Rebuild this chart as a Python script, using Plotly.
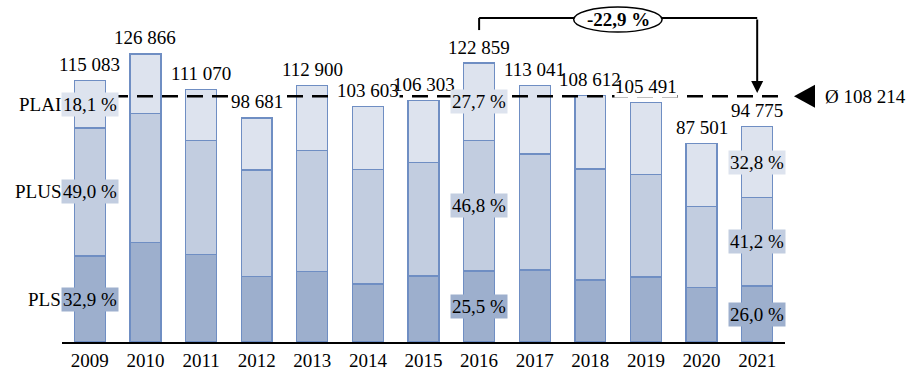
import plotly.graph_objects as go

years = ["2009", "2010", "2011", "2012", "2013", "2014", "2015",
         "2016", "2017", "2018", "2019", "2020", "2021"]
totals = [115083, 126866, 111070, 98681, 112900, 103603, 106303,
          122859, 113041, 108612, 105491, 87501, 94775]
# shares in percent of each year's total
share_pls = [32.9, 34.6, 34.7, 29.2, 27.6, 24.6, 27.3, 25.5, 28.0, 25.1, 27.1, 27.6, 26.0]
share_plus = [49.0, 44.6, 45.1, 47.6, 47.1, 48.7, 47.1, 46.8, 45.2, 45.1, 42.9, 40.7, 41.2]
share_plai = [18.1, 20.8, 20.2, 23.2, 25.3, 26.7, 25.6, 27.7, 26.8, 29.8, 30.0, 31.7, 32.8]
series_names = ["PLS", "PLUS", "PLAI"]
labelled_years = ["2009", "2016", "2021"]

FONT = "Liberation Serif"
FS = 19
col_pls, col_plus, col_plai = "#9dafcd", "#c2cde0", "#dde3ee"
edge = "#6f8ec3"
Y_MAX = 150600
PLOT_H = 342  # pixel height of plotting area
LABEL_SHIFT = 16

def fmt_int(v):
    return f"{int(round(v)):,}".replace(",", " ")

def fmt_pct(v):
    return f"{v:.1f}".replace(".", ",") + " %"

vals_pls = [t * s / 100 for t, s in zip(totals, share_pls)]
vals_plus = [t * s / 100 for t, s in zip(totals, share_plus)]
vals_plai = [t * s / 100 for t, s in zip(totals, share_plai)]
avg = sum(totals) / len(totals)
i16, i21 = years.index("2016"), years.index("2021")
change = (totals[i21] - totals[i16]) / totals[i16] * 100
px_per_unit = PLOT_H / Y_MAX

fig = go.Figure()
for name, vals, col in zip(series_names, [vals_pls, vals_plus, vals_plai], [col_pls, col_plus, col_plai]):
    fig.add_trace(go.Bar(x=years, y=vals, name=name, marker=dict(color=col, line=dict(color=edge, width=1.3)),
                         hoverinfo="skip"))

ann_bg, ann_plain = [], []
# totals above bars; white background only where the label sits on the average line
for i, t in enumerate(totals):
    centre_px = t * px_per_unit + LABEL_SHIFT
    crosses = abs(centre_px - avg * px_per_unit) < 11
    a = dict(x=i, y=t, text=fmt_int(t), showarrow=False, yanchor="middle", yshift=LABEL_SHIFT,
             font=dict(family=FONT, size=FS, color="black"), borderpad=0)
    if crosses:
        a["bgcolor"] = "white"
        ann_bg.append(a)
    else:
        ann_plain.append(a)
ann = ann_bg + ann_plain
# percentage labels
for y in labelled_years:
    i = years.index(y)
    base = 0
    for vals, shares, col in [(vals_pls, share_pls, col_pls), (vals_plus, share_plus, col_plus),
                              (vals_plai, share_plai, col_plai)]:
        ann.append(dict(x=i, y=base + vals[i] / 2, text=fmt_pct(shares[i]), showarrow=False,
                        bgcolor=col, borderpad=1, font=dict(family=FONT, size=FS, color="black")))
        base += vals[i]
# series names at left
base = 0
for name, vals in zip(series_names, [vals_pls, vals_plus, vals_plai]):
    ann.append(dict(xref="paper", x=0, y=base + vals[0] / 2, text=name, showarrow=False, xanchor="right",
                    xshift=1, font=dict(family=FONT, size=FS, color="black")))
    base += vals[0]

BR_Y = 142700
# arrow down to average line at 2021
ann.append(dict(x=i21, y=avg + 1400, ax=i21, ay=BR_Y, axref="x", ayref="y", text="",
                showarrow=True, arrowhead=2, arrowsize=1.2, arrowwidth=2, arrowcolor="black"))
# average label
ann.append(dict(xref="paper", x=1.052, y=avg, text="Ø " + fmt_int(avg), showarrow=False, xanchor="left",
                font=dict(family=FONT, size=FS, color="black")))
# change label
ann.append(dict(x=9.5, y=142000, text="<b>" + fmt_pct(change) + "</b>", showarrow=False,
                font=dict(family=FONT, size=FS, color="black")))

shapes = [
    dict(type="line", xref="paper", x0=0, x1=1, y0=avg, y1=avg, layer="above",
         line=dict(color="black", width=2.6, dash="16px,9px")),
    dict(type="path", xref="paper", yref="y", layer="above",
         path=f"M 1.0415,{avg + 5100} L 1.0124,{avg} L 1.0415,{avg - 5100} Z",
         fillcolor="black", line=dict(color="black", width=0)),
    dict(type="line", x0=i16, x1=i16, y0=totals[i16] + 14500, y1=BR_Y, line=dict(color="black", width=2)),
    dict(type="line", x0=i16, x1=i21, y0=BR_Y, y1=BR_Y, line=dict(color="black", width=2)),
    dict(type="circle", x0=8.7, x1=10.29, y0=136500, y1=147500, fillcolor="white",
         line=dict(color="black", width=1.5), layer="above"),
]

fig.update_layout(
    barmode="stack", bargap=0.443, width=919, height=383,
    margin=dict(l=62, r=134, t=0, b=41),
    plot_bgcolor="white", paper_bgcolor="white", showlegend=False,
    annotations=ann, shapes=shapes,
    font=dict(family=FONT, size=FS, color="black"),
    xaxis=dict(type="category", range=[-0.5, 12.5], showline=True, linecolor="black", linewidth=1.5,
               ticks="", showgrid=False, tickfont=dict(family=FONT, size=FS, color="black")),
    yaxis=dict(range=[0, Y_MAX], visible=False, showgrid=False),
)
fig.write_html("out.html", config={"displayModeBar": False},
               post_script="document.body.style.margin='0';")
